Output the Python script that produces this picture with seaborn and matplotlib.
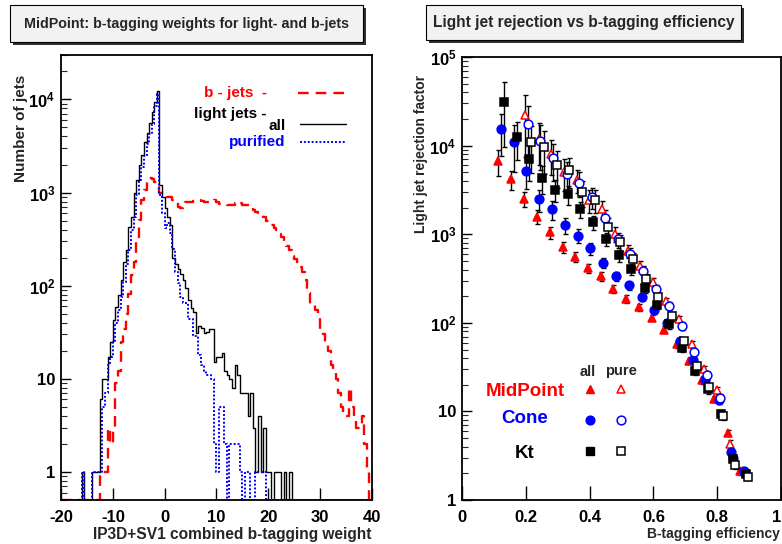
import numpy as np
import pandas as pd
import matplotlib
matplotlib.use("Agg")
import matplotlib.pyplot as plt
from matplotlib.patches import Rectangle
from matplotlib.ticker import LogLocator, NullFormatter
import seaborn as sns

# histogram binning of the combined b-tagging weight (0.5 wide bins)
edges = np.linspace(-20, 40, 121)
centers = 0.5 * (edges[:-1] + edges[1:])

light_all = [0, 0, 0, 0, 0, 0, 0, 0, 1, 0, 0, 0, 1, 1, 1, 6, 10, 10, 17, 25,
             43, 59, 80, 115, 180, 240, 430, 550, 1000, 1370, 2000, 2560, 3450, 4400, 5650, 7240, 9300, 12300, 1200, 900,
             680, 550, 450, 200, 170, 150, 135, 115, 94, 70, 57, 52, 31, 37, 35, 31, 32, 34, 34, 15,
             17, 17, 19, 12, 11, 10, 8, 14, 11, 7, 7, 7, 4, 7, 3, 1, 4, 1, 3, 1,
             1, 0, 1, 1, 1, 0, 1, 0, 1, 0, 0, 0, 0, 0, 0, 0, 0, 0, 0, 0,
             0, 0, 0, 0, 0, 0, 0, 0, 0, 0, 0, 0, 0, 0, 0, 0, 0, 0, 0, 0]

light_pure = [0, 0, 0, 0, 0, 0, 0, 0, 1, 0, 0, 0, 1, 1, 1, 1, 5, 7, 14, 17,
              25, 40, 55, 75, 110, 170, 240, 400, 550, 950, 1350, 1900, 2500, 3300, 4300, 5500, 8500, 11500, 950, 600,
              420, 470, 370, 250, 140, 108, 75, 66, 66, 44, 44, 29, 29, 18, 14, 12, 11, 11, 10, 2,
              1, 5, 5, 2, 0, 2, 2, 2, 2, 1, 0, 1, 1, 0, 0, 1, 1, 1, 1, 0,
              0, 0, 0, 0, 0, 0, 0, 0, 0, 0, 0, 0, 0, 0, 0, 0, 0, 0, 0, 0,
              0, 0, 0, 0, 0, 0, 0, 0, 0, 0, 0, 0, 0, 0, 0, 0, 0, 0, 0, 0]

b_jets = [0, 0, 0, 0, 0, 0, 0, 0, 0, 0, 0, 0, 0, 0, 0, 1, 1, 1, 3, 2,
          3, 9, 12, 25, 34, 50, 81, 130, 180, 330, 510, 830, 1070, 1300, 1450, 1400, 1300, 1200, 1000, 950,
          950, 900, 900, 830, 830, 700, 680, 700, 790, 800, 790, 820, 830, 830, 820, 800, 790, 790, 800, 830,
          790, 760, 750, 750, 740, 740, 740, 780, 790, 780, 740, 740, 740, 700, 650, 620, 600, 600, 550, 500,
          490, 450, 415, 400, 360, 335, 300, 270, 240, 210, 195, 180, 160, 140, 115, 83, 62, 62, 55, 48,
          32, 30, 24, 20, 14, 12, 10, 7, 5, 4, 4, 8, 5, 4, 3, 3, 4, 2, 1, 0]

# light jet rejection vs b-tagging efficiency
mid_all_eff = [0.114, 0.154, 0.193, 0.234, 0.275, 0.316, 0.354, 0.394, 0.436, 0.474,
               0.515, 0.554, 0.595, 0.634, 0.674, 0.713, 0.751, 0.791, 0.833, 0.872]
mid_all_rej = [6700, 4170, 2500, 1580, 1050, 720, 557, 412, 335, 243,
               187, 150, 114, 84, 57, 37, 22.6, 13.9, 5.75, 2.1]
mid_all_err = [2200, 1000, 480, 280, 170, 100, 70, 50, 38, 25,
               18, 14, 10, 7, 5, 3, 2, 1.2, 0.5, 0.2]

mid_pure_eff = [0.197, 0.242, 0.279, 0.319, 0.36, 0.399, 0.438, 0.48, 0.519, 0.559,
                0.6, 0.64, 0.681, 0.72, 0.76, 0.80, 0.841, 0.88]
mid_pure_rej = [22500, 12000, 8150, 5080, 4090, 2460, 1940, 1020, 650, 440,
                290, 175, 111, 57, 30, 17.3, 4.3, 2.1]
mid_pure_err = [15000, 6000, 3500, 2000, 1200, 700, 450, 200, 110, 60,
                35, 18, 10, 5, 3, 1.5, 0.4, 0.2]

cone_all_eff = [0.122, 0.162, 0.202, 0.242, 0.283, 0.323, 0.363, 0.402, 0.441, 0.483,
                0.522, 0.563, 0.603, 0.643, 0.683, 0.723, 0.762, 0.804, 0.843, 0.883]
cone_all_rej = [15400, 11100, 5160, 2500, 1910, 1270, 963, 695, 478, 337,
                265, 195, 140, 100, 63, 37.8, 22.4, 13.3, 3.5, 2.1]
cone_all_err = [7700, 6000, 1900, 700, 450, 250, 170, 110, 65, 40,
                28, 20, 14, 9, 5, 3, 2, 1.2, 0.4, 0.2]

cone_pure_eff = [0.208, 0.245, 0.286, 0.328, 0.368, 0.408, 0.448, 0.488, 0.528, 0.568,
                 0.608, 0.648, 0.689, 0.728, 0.768, 0.81, 0.848, 0.888]
cone_pure_rej = [17800, 11300, 7180, 4740, 3810, 2650, 1520, 877, 598, 387,
                 239, 157, 93, 47, 26, 14.3, 3.0, 2.0]
cone_pure_err = [10000, 6000, 3200, 1800, 1200, 700, 350, 170, 100, 55,
                 30, 17, 9, 4, 2.5, 1.3, 0.3, 0.2]

kt_all_eff = [0.131, 0.171, 0.211, 0.251, 0.29, 0.331, 0.371, 0.41, 0.45, 0.491,
              0.53, 0.572, 0.61, 0.65, 0.69, 0.73, 0.77, 0.812, 0.85, 0.891]
kt_all_rej = [30800, 12600, 7000, 4370, 3200, 2840, 1920, 1380, 883, 582,
              402, 246, 161, 96, 52, 28.6, 17.7, 9.3, 2.9, 1.98]
kt_all_err = [21000, 5700, 3000, 1500, 900, 700, 400, 250, 150, 90,
              55, 30, 18, 10, 5, 3, 1.8, 1, 0.3, 0.2]

kt_pure_eff = [0.216, 0.256, 0.297, 0.336, 0.376, 0.417, 0.457, 0.495, 0.537, 0.577,
               0.615, 0.657, 0.697, 0.736, 0.775, 0.817, 0.857, 0.897]
kt_pure_rej = [10900, 9800, 6050, 5300, 3030, 2430, 1220, 823, 521, 311,
               195, 118, 62, 33, 18.9, 8.9, 2.5, 1.82]
kt_pure_err = [6000, 5000, 2700, 2000, 1000, 700, 300, 170, 90, 45,
               25, 13, 6, 3, 1.7, 0.8, 0.25, 0.15]

sns.set_theme(style="ticks")
plt.rcParams["font.family"] = ["Liberation Sans", "DejaVu Sans"]
plt.rcParams["font.weight"] = "bold"
plt.rcParams["axes.labelweight"] = "bold"
plt.rcParams["mathtext.fontset"] = "custom"
plt.rcParams["mathtext.rm"] = "Liberation Sans:bold"
plt.rcParams["mathtext.bf"] = "Liberation Sans:bold"
plt.rcParams["mathtext.it"] = "Liberation Sans:bold:italic"
plt.rcParams["mathtext.default"] = "bf"

fig = plt.figure(figsize=(7.82, 5.44), dpi=100)
fig.patch.set_facecolor("white")

ax1 = fig.add_axes([0.078, 0.0809, 0.3977, 0.818])
ax2 = fig.add_axes([0.5908, 0.0809, 0.408, 0.814])

YMIN1 = 0.5


def style_axes(ax, xlen):
    for sp in ax.spines.values():
        sp.set_linewidth(1.3)
        sp.set_color("black")
    ax.set_facecolor("white")
    ax.tick_params(axis="x", which="major", direction="in", length=xlen, width=1.0,
                   labelsize=12, pad=7, top=False, colors="black")
    ax.tick_params(axis="x", which="minor", bottom=False, top=False)
    ax.tick_params(axis="y", which="major", direction="in", length=7.5, width=1.0,
                   labelsize=12, pad=4, right=False, colors="black")
    ax.tick_params(axis="y", which="minor", direction="in", length=4, width=0.8, right=False)
    for lab in ax.get_xticklabels() + ax.get_yticklabels():
        lab.set_fontweight("bold")


# ---- left: b-tagging weight histograms ----
hists = pd.DataFrame({
    "weight": centers,
    "b": np.maximum(b_jets, YMIN1),
    "all": np.maximum(light_all, YMIN1),
    "pure": np.maximum(light_pure, YMIN1),
})
hist_kw = dict(data=hists, x="weight", bins=120, binrange=(-20, 40), element="step",
               fill=False, ax=ax1, legend=False)
sns.histplot(weights="b", color="#ff0000", linewidth=1.7, linestyle=(0, (4.5, 3)), **hist_kw)
sns.histplot(weights="all", color="black", linewidth=1.0, **hist_kw)
sns.histplot(weights="pure", color="#0000ff", linewidth=1.4, linestyle=(0, (1, 1)), **hist_kw)

ax1.set_yscale("log")
ax1.set_xlim(-20, 40)
ax1.set_ylim(YMIN1, 3.0e4)
ax1.set_xticks([-20, -10, 0, 10, 20, 30, 40])
ax1.set_xticklabels(["-20", "-10", "0", "10", "20", "30", "40"])
ax1.set_yticks([1, 10, 100, 1e3, 1e4])
ax1.set_yticklabels(["1", "10", "$10^{2}$", "$10^{3}$", "$10^{4}$"])
ax1.yaxis.set_minor_locator(LogLocator(base=10, subs=np.arange(2, 10), numticks=20))
ax1.yaxis.set_minor_formatter(NullFormatter())
ax1.set_xlabel("")
ax1.set_ylabel("")
style_axes(ax1, 9)
ax1.text(0.997, -0.077, "IP3D+SV1 combined b-tagging weight", transform=ax1.transAxes,
         ha="right", va="center", fontsize=11.2, fontweight="bold")
ax1.text(-0.128, 0.955, "Number of jets", transform=ax1.transAxes, rotation=90,
         ha="center", va="top", fontsize=11, fontweight="bold")

# legend of the left panel
leg_fs = 11
ax1.text(0.662, 0.915, "b - jets  -", color="#ff0000", transform=ax1.transAxes,
         ha="right", va="center", fontsize=leg_fs, fontweight="bold")
ax1.plot([0.762, 0.913], [0.915, 0.915], color="#ff0000", lw=1.7, ls=(0, (4.5, 3)),
         transform=ax1.transAxes)
ax1.text(0.662, 0.867, "light jets -", color="black", transform=ax1.transAxes,
         ha="right", va="center", fontsize=leg_fs, fontweight="bold")
ax1.text(0.723, 0.841, "all", color="black", transform=ax1.transAxes,
         ha="right", va="center", fontsize=leg_fs, fontweight="bold")
ax1.plot([0.768, 0.916], [0.845, 0.845], color="black", lw=1.0, transform=ax1.transAxes)
ax1.text(0.723, 0.804, "purified", color="#0000ff", transform=ax1.transAxes,
         ha="right", va="center", fontsize=leg_fs, fontweight="bold")
ax1.plot([0.768, 0.916], [0.804, 0.804], color="#0000ff", lw=1.4, ls=(0, (1, 1)),
         transform=ax1.transAxes)

# ---- right: rejection vs efficiency ----
series = [
    (mid_all_eff, mid_all_rej, mid_all_err, "^", "#ff0000", True),
    (mid_pure_eff, mid_pure_rej, mid_pure_err, "^", "#ff0000", False),
    (cone_all_eff, cone_all_rej, cone_all_err, "o", "#0000ff", True),
    (cone_pure_eff, cone_pure_rej, cone_pure_err, "o", "#0000ff", False),
    (kt_all_eff, kt_all_rej, kt_all_err, "s", "black", True),
    (kt_pure_eff, kt_pure_rej, kt_pure_err, "s", "black", False),
]
for eff, rej, err, mk, col, filled in series:
    ax2.errorbar(eff, rej, yerr=err, fmt="none", ecolor="black", elinewidth=1.0,
                 capsize=1.8, capthick=1.0, zorder=2)
    ax2.plot(eff, rej, ls="none", marker=mk, ms=6.3 if mk != "s" else 6.0,
             mfc=col if filled else "white", mec=col, mew=1.1, zorder=3)

ax2.set_yscale("log")
ax2.set_xlim(0, 1)
ax2.set_ylim(1, 1e5)
ax2.set_xticks([0, 0.2, 0.4, 0.6, 0.8, 1.0])
ax2.set_xticklabels(["0", "0.2", "0.4", "0.6", "0.8", "1"])
ax2.set_yticks([1, 10, 100, 1e3, 1e4, 1e5])
ax2.set_yticklabels(["1", "10", "$10^{2}$", "$10^{3}$", "$10^{4}$", "$10^{5}$"])
ax2.yaxis.set_minor_locator(LogLocator(base=10, subs=np.arange(2, 10), numticks=20))
ax2.yaxis.set_minor_formatter(NullFormatter())
style_axes(ax2, 10)
# the last label sits on the figure edge; keep it inside the picture
ax2.get_xticklabels()[-1].set_horizontalalignment("right")
ax2.text(0.995, -0.076, "B-tagging efficiency", transform=ax2.transAxes,
         ha="right", va="center", fontsize=10, fontweight="bold")
ax2.text(-0.127, 0.959, "Light jet rejection factor", transform=ax2.transAxes, rotation=90,
         ha="center", va="top", fontsize=10, fontweight="bold")

# legend of the right panel
ax2.text(0.395, 0.289, "all", transform=ax2.transAxes, ha="center", va="center",
         fontsize=10.5, fontweight="bold")
ax2.text(0.498, 0.291, "pure", transform=ax2.transAxes, ha="center", va="center",
         fontsize=10.5, fontweight="bold")
rows = [("MidPoint", "#ff0000", "^", 0.246, 0.251),
        ("Cone", "#0000ff", "o", 0.183, 0.181),
        ("Kt", "black", "s", 0.105, 0.111)]
for name, col, mk, ty, my in rows:
    ax2.text(0.197, ty, name, color=col, transform=ax2.transAxes, ha="center", va="center",
             fontsize=13.5, fontweight="bold")
    ax2.plot([0.401], [my], marker=mk, ms=6.3, mfc=col, mec=col, ls="none",
             transform=ax2.transAxes)
    ax2.plot([0.498], [my], marker=mk, ms=6.3, mfc="white", mec=col, mew=1.1, ls="none",
             transform=ax2.transAxes)

# ---- title boxes (ROOT style with shadow) ----
def title_box(x0, y0, w, h, text, fs):
    sh = Rectangle((x0 + 0.004, y0 - 0.0055), w, h, transform=fig.transFigure,
                   facecolor="#303030", edgecolor="none", zorder=1)
    bx = Rectangle((x0, y0), w, h, transform=fig.transFigure,
                   facecolor="#f2f2f2", edgecolor="black", linewidth=0.8, zorder=2)
    fig.patches.extend([sh, bx])
    fig.text(x0 + w / 2, y0 + h / 2, text, ha="center", va="center",
             fontsize=fs, fontweight="bold", zorder=3)


title_box(0.0128, 0.9228, 0.4514, 0.068, "MidPoint: b-tagging weights for light- and b-jets", 10.3)
title_box(0.5448, 0.9265, 0.4028, 0.0643, "Light jet rejection vs b-tagging efficiency", 11.2)

fig.savefig("out.png", dpi=100, facecolor="white")
